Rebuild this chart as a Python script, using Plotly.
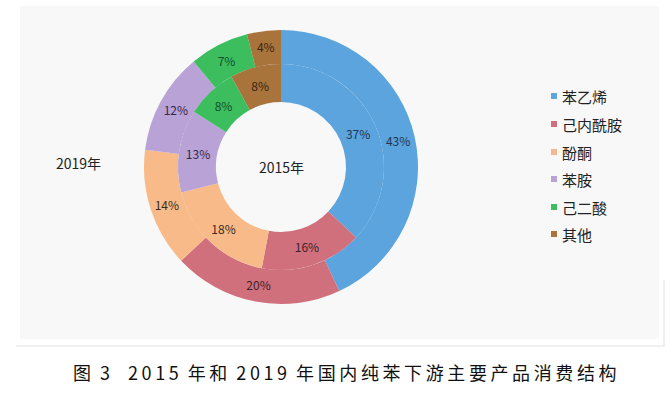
import plotly.graph_objects as go

categories = ["苯乙烯", "己内酰胺", "酚酮", "苯胺", "己二酸", "其他"]
values_2015 = [37, 16, 18, 13, 8, 8]
values_2019 = [43, 20, 14, 12, 7, 4]
colors = ["#5ba4dd", "#d1707d", "#f8ba88", "#b8a2d6", "#3cbe5e", "#a8743c"]
text_colors = ["#1e3553", "#3a2228", "#3a2a1e", "#33284a", "#12502a", "#3a2612"]
caption_text = "图 3  2015 年和 2019 年国内纯苯下游主要产品消费结构"

W, H = 672, 399
cx, cy = 281, 167
r_out, r_mid, r_in = 137, 103, 65


def dom(r):
    return dict(x=[(cx - r) / W, (cx + r) / W], y=[1 - (cy + r) / H, 1 - (cy - r) / H])


font = "Noto Sans CJK SC"
fig = go.Figure()
fig.add_trace(go.Pie(
    labels=categories, values=values_2019, hole=r_mid / r_out, sort=False,
    direction="clockwise", rotation=0, domain=dom(r_out),
    marker=dict(colors=colors, line=dict(width=0)),
    texttemplate="%{value}%", textposition="inside", insidetextorientation="horizontal",
    textfont=dict(size=12, color=text_colors, family=font), showlegend=False,
    hoverinfo="label+value",
))
fig.add_trace(go.Pie(
    labels=categories, values=values_2015, hole=r_in / r_mid, sort=False,
    direction="clockwise", rotation=0, domain=dom(r_mid),
    marker=dict(colors=colors, line=dict(width=0)),
    texttemplate="%{value}%", textposition="inside", insidetextorientation="horizontal",
    textfont=dict(size=12, color=text_colors, family=font), showlegend=False,
    hoverinfo="label+value",
))

shapes = [
    dict(type="rect", xref="paper", yref="paper", x0=20 / W, x1=659 / W,
         y0=1 - 339 / H, y1=1 - 6 / H, fillcolor="#f8f8f8", line=dict(width=0), layer="below"),
    dict(type="line", xref="paper", yref="paper", x0=16 / W, x1=665 / W,
         y0=1 - 346 / H, y1=1 - 346 / H, line=dict(color="#e2e2e2", width=1)),
    dict(type="line", xref="paper", yref="paper", x0=664 / W, x1=664 / W,
         y0=1 - 346 / H, y1=1 - 280 / H, line=dict(color="#e2e2e2", width=1)),
]

# letter-spaced caption: thin spaces between adjacent glyphs, wider spaces for gaps
thin = "\u2009"
gap = "\u2002"
caption = ""
for i, ch in enumerate(caption_text):
    if ch == " ":
        caption += gap
    else:
        if i > 0 and caption_text[i - 1] != " ":
            caption += thin
        caption += ch

annotations = [
    dict(text="2015年", x=cx / W, y=1 - cy / H, xref="paper", yref="paper",
         xanchor="center", yanchor="middle",
         showarrow=False, font=dict(size=14, color="#222", family=font)),
    dict(text="2019年", x=78 / W, y=1 - 163 / H, xref="paper", yref="paper",
         xanchor="center", yanchor="middle",
         showarrow=False, font=dict(size=14, color="#222", family=font)),
    dict(text=caption, x=345 / W, y=1 - 372 / H, xref="paper", yref="paper",
         xanchor="center", yanchor="middle",
         showarrow=False, font=dict(size=18, color="#111", family=font)),
]

# legend drawn as small squares + labels
leg_y = [96, 124, 152, 179, 207, 234]
for cat, col, ly in zip(categories, colors, leg_y):
    shapes.append(dict(type="rect", xref="paper", yref="paper",
                       x0=551 / W, x1=557 / W, y0=1 - (ly + 3) / H, y1=1 - (ly - 3) / H,
                       fillcolor=col, line=dict(width=0)))
    annotations.append(dict(text=cat, x=560 / W, y=1 - ly / H, xref="paper", yref="paper",
                            xanchor="left", yanchor="middle", showarrow=False,
                            font=dict(size=15, color="#222", family=font)))

fig.update_layout(
    width=W, height=H, margin=dict(l=0, r=0, t=0, b=0),
    paper_bgcolor="white", plot_bgcolor="white",
    shapes=shapes, annotations=annotations, showlegend=False,
)
fig.write_html("out.html", config={"displayModeBar": False},
               post_script="document.body.style.margin='0';")
